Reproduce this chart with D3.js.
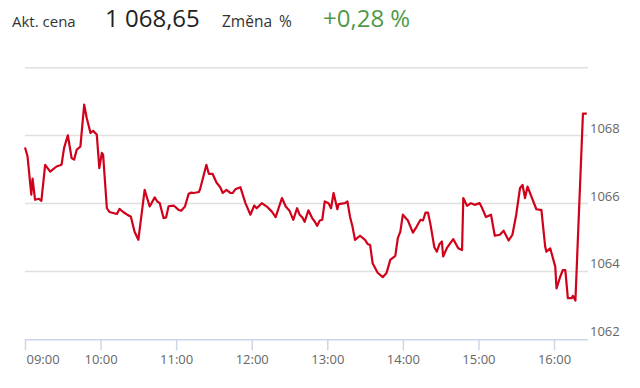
<!DOCTYPE html>
<html>
<head>
<meta charset="utf-8">
<script src="https://cdn.jsdelivr.net/npm/d3@7"></script>
<style>
  html, body { margin: 0; padding: 0; background: #fff; }
  svg { display: block; font-family: "Open Sans", "Noto Sans", sans-serif; }
</style>
</head>
<body>
<svg id="chart" width="640" height="388"></svg>
<script>
const times = ["09:00","09:02","09:05","09:06","09:08","09:11","09:13","09:16","09:20","09:25",
"09:29","09:31","09:34","09:37","09:39","09:41","09:44","09:47","09:49","09:52",
"09:54","09:57","09:59","10:01","10:02","10:05","10:07","10:13","10:15","10:18",
"10:22","10:24","10:27","10:30","10:35","10:39","10:43","10:45","10:47","10:50",
"10:52","10:54","10:58","11:02","11:04","11:07","11:10","11:12","11:14","11:18",
"11:19","11:24","11:26","11:29","11:32","11:35","11:37","11:40","11:43","11:45",
"11:47","11:51","11:55","11:59","12:02","12:04","12:08","12:12","12:16","12:19",
"12:24","12:27","12:30","12:33","12:36","12:38","12:40","12:42","12:45","12:48",
"12:50","12:52","12:54","12:56","12:58","13:01","13:03","13:05","13:08","13:09",
"13:14","13:16","13:18","13:20","13:22","13:26","13:30","13:32","13:34","13:36",
"13:40","13:44","13:47","13:50","13:54","13:56","13:58","14:00","14:04","14:08",
"14:11","14:14","14:16","14:18","14:20","14:22","14:25","14:27","14:29","14:31",
"14:32","14:35","14:40","14:44","14:47","14:48","14:51","14:54","14:57","15:01",
"15:03","15:06","15:10","15:13","15:17","15:20","15:24","15:27","15:30","15:33",
"15:35","15:37","15:39","15:42","15:46","15:49","15:50","15:53","15:54","15:57",
"16:01","16:02","16:05","16:07","16:09","16:11","16:14","16:15","16:17","16:20",
"16:23","16:26"];

const prices = [1067.65,1067.39,1066.26,1066.73,1066.11,1066.14,1066.08,1067.14,1066.94,1067.09,
1067.14,1067.63,1068.01,1067.34,1067.29,1067.58,1067.68,1068.91,1068.52,1068.08,
1068.14,1068.03,1067.04,1067.49,1067.44,1065.86,1065.75,1065.69,1065.84,1065.75,
1065.65,1065.62,1065.17,1064.93,1066.40,1065.91,1066.18,1066.06,1066.01,1065.57,
1065.59,1065.92,1065.94,1065.81,1065.79,1065.91,1066.29,1066.32,1066.31,1066.34,
1066.42,1067.14,1066.87,1066.87,1066.62,1066.48,1066.31,1066.40,1066.31,1066.31,
1066.42,1066.48,1066.01,1065.67,1065.94,1065.86,1066.01,1065.91,1065.76,1065.60,
1066.16,1065.91,1065.79,1065.52,1065.86,1065.67,1065.60,1065.46,1065.80,1065.57,
1065.47,1065.34,1065.50,1065.52,1066.06,1066.01,1065.86,1066.31,1065.83,1065.98,
1066.01,1066.06,1065.62,1065.32,1064.93,1065.05,1064.93,1064.81,1064.78,1064.24,
1063.96,1063.83,1063.95,1064.34,1064.46,1064.98,1065.17,1065.67,1065.50,1065.14,
1065.32,1065.52,1065.50,1065.73,1065.73,1065.37,1064.71,1064.58,1064.80,1064.88,
1064.44,1064.69,1064.95,1064.68,1064.63,1066.16,1065.93,1066.01,1065.96,1066.01,
1065.86,1065.60,1065.67,1065.05,1065.08,1065.20,1064.91,1065.08,1065.67,1066.45,
1066.55,1066.16,1066.50,1066.21,1065.83,1065.81,1065.81,1064.73,1064.58,1064.68,
1064.14,1063.50,1063.85,1064.04,1064.04,1063.21,1063.21,1063.28,1063.14,1065.91,
1068.65,1068.65];

const yTicks = [1062, 1064, 1066, 1068, 1070];
const yLabels = [1062, 1064, 1066, 1068];
const xTicks = ["09:00","10:00","11:00","12:00","13:00","14:00","15:00","16:00"];
const xDomain = ["09:00", "16:27"];

const headerLabels = ["Akt. cena", "Změna %"];
const headerValues = ["1 068,65", "+0,28 %"];

const parse = d3.timeParse("%H:%M");
const data = times.map((t, i) => ({ t: parse(t), v: prices[i] }));

const svg = d3.select("#chart");
const pLeft = 25, pRight = 588, pTop = 67.7, pBottom = 339.3;

const x = d3.scaleTime().domain(xDomain.map(parse)).range([pLeft, pRight]);
const y = d3.scaleLinear().domain([1062, 1070]).range([pBottom, pTop]);

// Header
const hdr = svg.append("g");
hdr.append("text").attr("x", 12).attr("y", 26.5).attr("font-size", 15).attr("fill", "#333").text(headerLabels[0]);
hdr.append("text").attr("x", 105).attr("y", 26.5).attr("font-size", 24).attr("fill", "#222").text(headerValues[0]);
hdr.append("text").attr("x", 222).attr("y", 26.5).attr("font-size", 15.5).attr("fill", "#333")
  .attr("word-spacing", 3).text(headerLabels[1]);
hdr.append("text").attr("x", 323).attr("y", 26.5).attr("font-size", 24).attr("fill", "#4f9a48").text(headerValues[1]);

// Grid lines
svg.append("g").selectAll("line").data(yTicks.filter(d => d !== 1062)).join("line")
  .attr("x1", pLeft).attr("x2", pRight)
  .attr("y1", d => y(d)).attr("y2", d => y(d))
  .attr("stroke", "#e0e0e0").attr("stroke-width", 1.5);

// Y labels (right)
svg.append("g").selectAll("text").data(yLabels).join("text")
  .attr("x", 590).attr("y", d => y(d) - 3)
  .attr("font-size", 13).attr("fill", "#666")
  .text(d => d);

// X axis
const xAxis = d3.axisBottom(x)
  .tickValues(xTicks.map(parse))
  .tickSize(11)
  .tickFormat(d3.timeFormat("%H:%M"));
const gx = svg.append("g").attr("transform", `translate(0,${pBottom})`).call(xAxis);
gx.select(".domain").attr("stroke", "#ccd6eb").attr("stroke-width", 1.5)
  .attr("d", `M${pLeft},0.5H${pRight}`);
gx.selectAll(".tick line").attr("stroke", "#ccd6eb").attr("stroke-width", 1.5);
gx.selectAll(".tick text")
  .attr("font-family", '"Open Sans", "Noto Sans", sans-serif')
  .attr("font-size", 13).attr("fill", "#666").attr("dy", "0.9em").attr("y", 13);
gx.selectAll(".tick text").filter((d, i) => i === 0)
  .attr("text-anchor", "start").attr("dx", 1);

// Line
const line = d3.line().x(d => x(d.t)).y(d => y(d.v));
svg.append("path").datum(data)
  .attr("d", line)
  .attr("fill", "none")
  .attr("stroke", "#d0021b")
  .attr("stroke-width", 2.2)
  .attr("stroke-linejoin", "round");
</script>
</body>
</html>
